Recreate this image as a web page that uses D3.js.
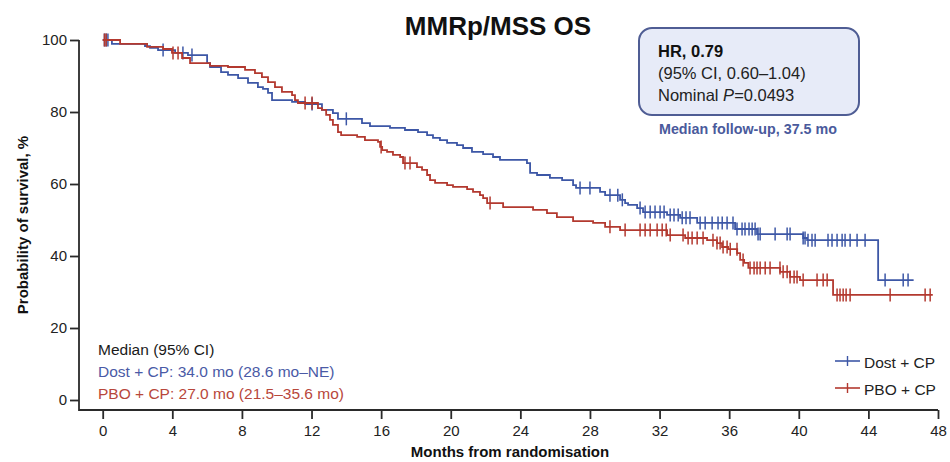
<!DOCTYPE html>
<html>
<head>
<meta charset="utf-8">
<script src="https://cdn.jsdelivr.net/npm/d3@7"></script>
<style>
  html, body { margin: 0; padding: 0; background: #fff; }
  svg { display: block; font-family: "Liberation Sans", Arial, sans-serif; }
</style>
</head>
<body>
<svg id="chart" width="950" height="462"></svg>
<script>
// Kaplan–Meier step points: [month, survival %] after each drop
const dostSteps = [
  [0, 100], [0.53, 98.9], [2.43, 98.3], [2.72, 97.8], [3.18, 97.2], [4.16, 96.4], [4.9, 95.8],
  [6.0, 93.6], [6.17, 92.5], [6.8, 91.1], [7.2, 90.3], [7.78, 89.4], [8.35, 88.1], [8.92, 86.9],
  [9.21, 86.4], [9.5, 85.3], [9.73, 83.3], [10.88, 82.8], [11.63, 82.2], [12.6, 80.6], [13.23, 79.7],
  [13.52, 78.1], [14.9, 76.9], [15.36, 76.1], [16.51, 75.6], [17.37, 75.0], [18.12, 74.4], [18.64, 73.6],
  [18.98, 72.8], [19.38, 72.2], [19.79, 71.4], [20.36, 70.8], [20.71, 70.0], [21.22, 68.9], [21.86, 68.3],
  [22.43, 67.5], [22.83, 66.7], [24.38, 65.8], [24.56, 63.1], [24.96, 62.5], [25.7, 61.7], [26.4, 61.1],
  [27.03, 59.7], [27.2, 58.9], [28.58, 57.8], [28.87, 56.9], [29.73, 55.6], [30.02, 54.7], [30.19, 54.2],
  [30.71, 53.3], [31.05, 52.2], [32.43, 51.4], [33.18, 50.6], [34.16, 49.2], [36.34, 47.5], [37.6, 46.1],
  [40.25, 45.0], [40.48, 44.4], [44.56, 33.3]
];
const dostEnd = 46.6;
const dostCensored = [
  0.1, 0.2, 0.3, 3.47, 4.61, 5.13, 12.03, 14.0, 27.43, 28.0, 29.15, 29.6, 29.86,
  30.88, 31.17, 31.46, 31.74, 32.03, 32.26, 32.61, 32.83, 33.07, 33.3, 33.52, 33.75,
  34.33, 34.62, 35.02, 35.36, 35.6, 35.88, 36.22, 36.45, 36.74, 36.91, 37.14, 37.32, 37.49, 37.66, 37.78,
  38.64, 39.33, 39.5, 40.25, 40.36, 40.53, 40.76, 40.94,
  41.68, 41.91, 42.2, 42.49, 42.66, 42.95, 43.35, 43.81, 44.96, 46.0, 46.28
];

const pboSteps = [
  [0, 100], [1.0, 98.9], [2.55, 98.1], [3.47, 97.5], [3.98, 96.4], [4.56, 95.0], [5.02, 93.6],
  [6.17, 92.8], [7.2, 92.5], [8.18, 91.7], [8.75, 90.8], [9.15, 89.7], [9.5, 88.3], [9.9, 86.9],
  [10.3, 85.6], [10.88, 84.7], [11.05, 83.3], [11.22, 82.5], [12.37, 81.1], [12.6, 80.6], [12.84, 79.2],
  [13.06, 77.8], [13.23, 76.4], [13.52, 74.4], [13.7, 73.6], [14.62, 73.1], [15.07, 72.2], [15.82, 71.7],
  [15.94, 70.3], [16.06, 69.4], [16.34, 68.9], [16.68, 68.1], [17.09, 67.5], [17.26, 65.8], [18.06, 64.7],
  [18.35, 63.9], [18.64, 62.5], [18.81, 61.1], [19.1, 60.3], [19.79, 59.7], [20.13, 59.2], [20.94, 58.6],
  [21.28, 57.8], [21.68, 56.9], [21.86, 56.1], [22.09, 54.7], [23.01, 53.6], [24.73, 52.8], [25.53, 51.9],
  [26.1, 50.8], [27.03, 49.7], [28.18, 49.2], [28.87, 48.1], [29.73, 47.2], [32.43, 45.8], [33.47, 45.0],
  [34.73, 44.4], [35.3, 43.6], [35.59, 42.5], [35.94, 41.9], [36.46, 40.8], [36.63, 38.9], [36.86, 38.1],
  [37.1, 36.7], [38.93, 35.6], [39.5, 34.2], [40.07, 33.3], [41.97, 29.2]
];
const pboEnd = 47.7;
const pboCensored = [
  0.1, 0.2, 4.04, 4.33, 11.63, 12.03, 16.0, 17.37, 17.66, 22.26, 29.15, 30.02,
  30.88, 31.17, 31.46, 31.86, 32.15, 32.38, 32.61, 33.35, 33.64, 33.87, 34.16, 34.5,
  35.07, 35.3, 35.48, 35.65, 35.88, 36.06, 36.45, 36.8, 37.2, 37.43, 37.6, 37.78, 38.07, 38.35,
  38.92, 39.1, 39.33, 39.5, 39.73, 39.9, 40.25, 41.05, 41.4, 41.63,
  42.2, 42.37, 42.55, 42.72, 42.95, 45.25, 47.26, 47.55
];

const xTicks = [0, 4, 8, 12, 16, 20, 24, 28, 32, 36, 40, 44, 48];
const yTicks = [0, 20, 40, 60, 80, 100];

const seriesNames = ["Dost + CP", "PBO + CP"];
const colors = { dost: "#3d57a6", pbo: "#b3392f" };

const svg = d3.select("#chart");

const x = d3.scaleLinear().domain([0, 48]).range([102.7, 938]);
const y = d3.scaleLinear().domain([0, 100]).range([400, 40]);

const axisColor = "#2a2a2a";
const axisLeftX = 79, axisBottomY = 410;

// Axes
const yAxis = svg.append("g")
  .attr("transform", `translate(${axisLeftX},0)`)
  .call(d3.axisLeft(y).tickValues(yTicks).tickSize(9).tickPadding(3));
yAxis.select(".domain").remove();

const xAxis = svg.append("g")
  .attr("transform", `translate(0,${axisBottomY})`)
  .call(d3.axisBottom(x).tickValues(xTicks).tickSize(9).tickPadding(6));
xAxis.select(".domain").remove();

svg.selectAll(".tick line").attr("stroke", axisColor).attr("stroke-width", 1.8);
svg.selectAll(".tick text")
  .attr("fill", "#222").style("font-size", "15px")
  .style("font-family", "'Liberation Sans', Arial, sans-serif");

svg.append("path")
  .attr("d", `M${axisLeftX},${y(100)}V${axisBottomY}H${x(48)}`)
  .attr("fill", "none").attr("stroke", axisColor).attr("stroke-width", 1.8);

// Axis titles
svg.append("text")
  .attr("x", 510).attr("y", 457)
  .attr("text-anchor", "middle")
  .style("font-size", "15px").style("font-weight", "bold")
  .attr("fill", "#111")
  .text("Months from randomisation");

svg.append("text")
  .attr("transform", "translate(28,225) rotate(-90)")
  .attr("text-anchor", "middle")
  .style("font-size", "15px").style("font-weight", "bold")
  .attr("fill", "#111")
  .text("Probability of survival, %");

// Title
svg.append("text")
  .attr("x", 498).attr("y", 35)
  .attr("text-anchor", "middle")
  .style("font-size", "26px").style("font-weight", "bold")
  .attr("fill", "#111")
  .text("MMRp/MSS OS");

// Curves
const line = d3.line()
  .x(d => x(d[0]))
  .y(d => y(d[1]))
  .curve(d3.curveStepAfter);

function survivalAt(steps, t) {
  let s = steps[0][1];
  for (const [m, v] of steps) { if (m <= t) s = v; else break; }
  return s;
}

function drawSeries(steps, end, censored, color) {
  const pts = steps.concat([[end, steps[steps.length - 1][1]]]);
  const g = svg.append("g");
  g.append("path")
    .attr("d", line(pts))
    .attr("fill", "none")
    .attr("stroke", color)
    .attr("stroke-width", 1.8);
  g.selectAll("line.cens")
    .data(censored)
    .join("line")
    .attr("class", "cens")
    .attr("x1", d => x(d)).attr("x2", d => x(d))
    .attr("y1", d => y(survivalAt(steps, d)) - 6.5)
    .attr("y2", d => y(survivalAt(steps, d)) + 6.5)
    .attr("stroke", color)
    .attr("stroke-width", 1.5);
}

drawSeries(dostSteps, dostEnd, dostCensored, colors.dost);
drawSeries(pboSteps, pboEnd, pboCensored, colors.pbo);

// HR box
const box = svg.append("g");
box.append("rect")
  .attr("x", 639).attr("y", 28).attr("width", 220).attr("height", 87)
  .attr("rx", 13).attr("ry", 13)
  .attr("fill", "#e7ebf8").attr("stroke", "#4f5d94").attr("stroke-width", 2);
box.append("text").attr("x", 658).attr("y", 57)
  .style("font-size", "16.5px").style("font-weight", "bold").attr("fill", "#111")
  .text("HR, 0.79");
box.append("text").attr("x", 658).attr("y", 79)
  .style("font-size", "16.5px").attr("fill", "#222")
  .text("(95% CI, 0.60–1.04)");
const pText = box.append("text").attr("x", 658).attr("y", 101)
  .style("font-size", "16.5px").attr("fill", "#222");
pText.append("tspan").text("Nominal ");
pText.append("tspan").style("font-style", "italic").text("P");
pText.append("tspan").text("=0.0493");

svg.append("text")
  .attr("x", 659).attr("y", 134)
  .style("font-size", "14.3px").style("font-weight", "bold")
  .attr("fill", "#4a5a9c")
  .text("Median follow-up, 37.5 mo");

// Median summary
const medLines = [
  { t: "Median (95% CI)", c: "#1a1a1a", yy: 355 },
  { t: "Dost + CP: 34.0 mo (28.6 mo–NE)", c: "#4a5aa6", yy: 377 },
  { t: "PBO + CP: 27.0 mo (21.5–35.6 mo)", c: "#b8473b", yy: 399 }
];
svg.selectAll("text.med")
  .data(medLines)
  .join("text")
  .attr("class", "med")
  .attr("x", 98).attr("y", d => d.yy)
  .style("font-size", "15.5px")
  .attr("fill", d => d.c)
  .text(d => d.t);

// Legend
const legend = svg.append("g");
const legendItems = [
  { name: seriesNames[0], color: colors.dost, yy: 361 },
  { name: seriesNames[1], color: colors.pbo, yy: 388 }
];
legendItems.forEach(it => {
  legend.append("line")
    .attr("x1", 835).attr("x2", 860).attr("y1", it.yy).attr("y2", it.yy)
    .attr("stroke", it.color).attr("stroke-width", 1.6);
  legend.append("line")
    .attr("x1", 847.5).attr("x2", 847.5).attr("y1", it.yy - 5).attr("y2", it.yy + 5)
    .attr("stroke", it.color).attr("stroke-width", 1.4);
  legend.append("text")
    .attr("x", 864).attr("y", it.yy + 6.5)
    .style("font-size", "15.5px").attr("fill", "#222")
    .text(it.name);
});
</script>
</body>
</html>
